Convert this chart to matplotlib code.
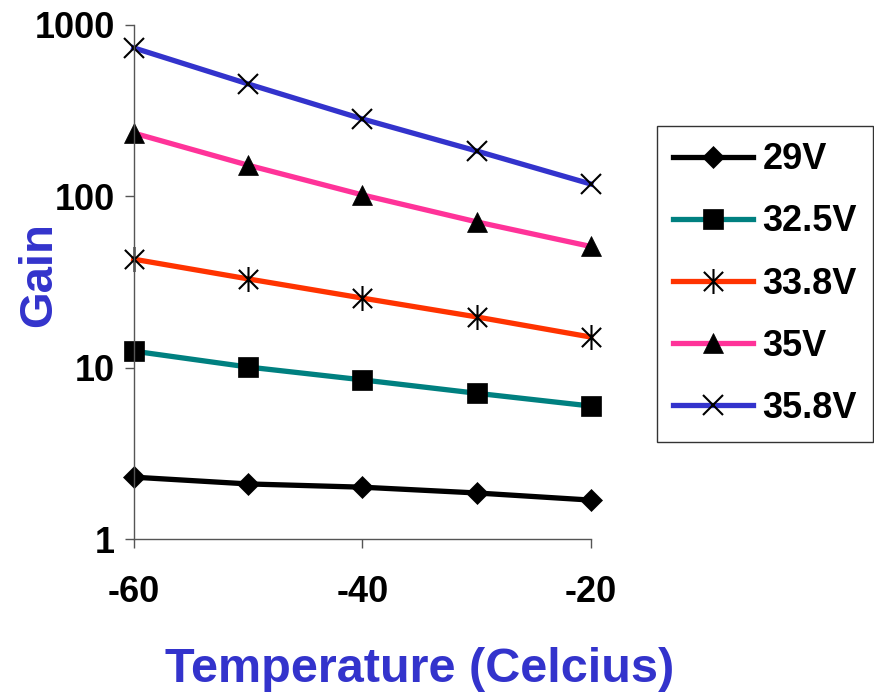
import matplotlib.pyplot as plt
from matplotlib.path import Path
import numpy as np

plt.rcParams['font.family'] = ['Liberation Sans', 'DejaVu Sans']
plt.rcParams['font.weight'] = 'bold'
plt.rcParams['axes.unicode_minus'] = False

temps = [-60, -50, -40, -30, -20]
labels = ['29V', '32.5V', '33.8V', '35V', '35.8V']
gain_29 = [2.30, 2.10, 2.01, 1.86, 1.69]
gain_325 = [12.5, 10.1, 8.5, 7.1, 5.98]
gain_338 = [43, 33, 25.5, 19.8, 15.1]
gain_35 = [234, 152, 102, 71, 51]
gain_358 = [735, 453, 283, 184, 118]

# asterisk like excel: X plus a vertical bar
star = Path([(-1, -1), (1, 1), (-1, 1), (1, -1), (0, -1.3), (0, 1.3)],
            [Path.MOVETO, Path.LINETO, Path.MOVETO, Path.LINETO, Path.MOVETO, Path.LINETO])

series = [
    (gain_29, '#000000', 'D', 11.5),
    (gain_325, '#008080', 's', 14),
    (gain_338, '#FF3300', star, 18),
    (gain_35, '#FF3399', '^', 15),
    (gain_358, '#3333CC', 'x', 15),
]

fig = plt.figure(figsize=(8.74, 6.93), dpi=100)
ax = fig.add_axes([0.153, 0.222, 0.523, 0.742])

for (vals, col, mk, ms), lab in zip(series, labels):
    filled = mk in ('D', 's', '^')
    ax.plot(temps, vals, color=col, lw=3.8, marker=mk, markersize=ms,
            markerfacecolor='black', markeredgecolor='black',
            markeredgewidth=1.5 if not filled else 0.5, label=lab, clip_on=False)

ax.set_yscale('log')
ax.set_ylim(1, 1000)
ax.set_xlim(-60, -20)
ax.set_xticks([-60, -40, -20])
ax.set_yticks([1, 10, 100, 1000])
ax.set_yticklabels(['1', '10', '100', '1000'])
ax.yaxis.set_minor_locator(plt.NullLocator())
for s in ['top', 'right']:
    ax.spines[s].set_visible(False)
for s in ['left', 'bottom']:
    ax.spines[s].set_color('#555555')
    ax.spines[s].set_linewidth(1)
ax.tick_params(axis='both', labelsize=26, length=6.5, width=1, color='#555555')
ax.tick_params(axis='y', pad=7)
ax.tick_params(axis='x', pad=19)

fig.text(420 / 874, 1 - 670 / 693, 'Temperature (Celcius)', fontsize=35,
         color='#3333CC', ha='center', va='center', fontweight='bold')
fig.text(39 / 874, 1 - 275 / 693, 'Gain', fontsize=34, color='#3333CC',
         ha='center', va='center', rotation=90, fontweight='bold')

leg = fig.legend(loc='upper left', bbox_to_anchor=(0.752, 0.818), fontsize=26,
                 frameon=True, fancybox=False, edgecolor='black', handlelength=2.2,
                 labelspacing=0.75, borderpad=0.45, handletextpad=0.27, borderaxespad=0)
leg.get_frame().set_linewidth(1)

fig.savefig('out.png', dpi=100)
